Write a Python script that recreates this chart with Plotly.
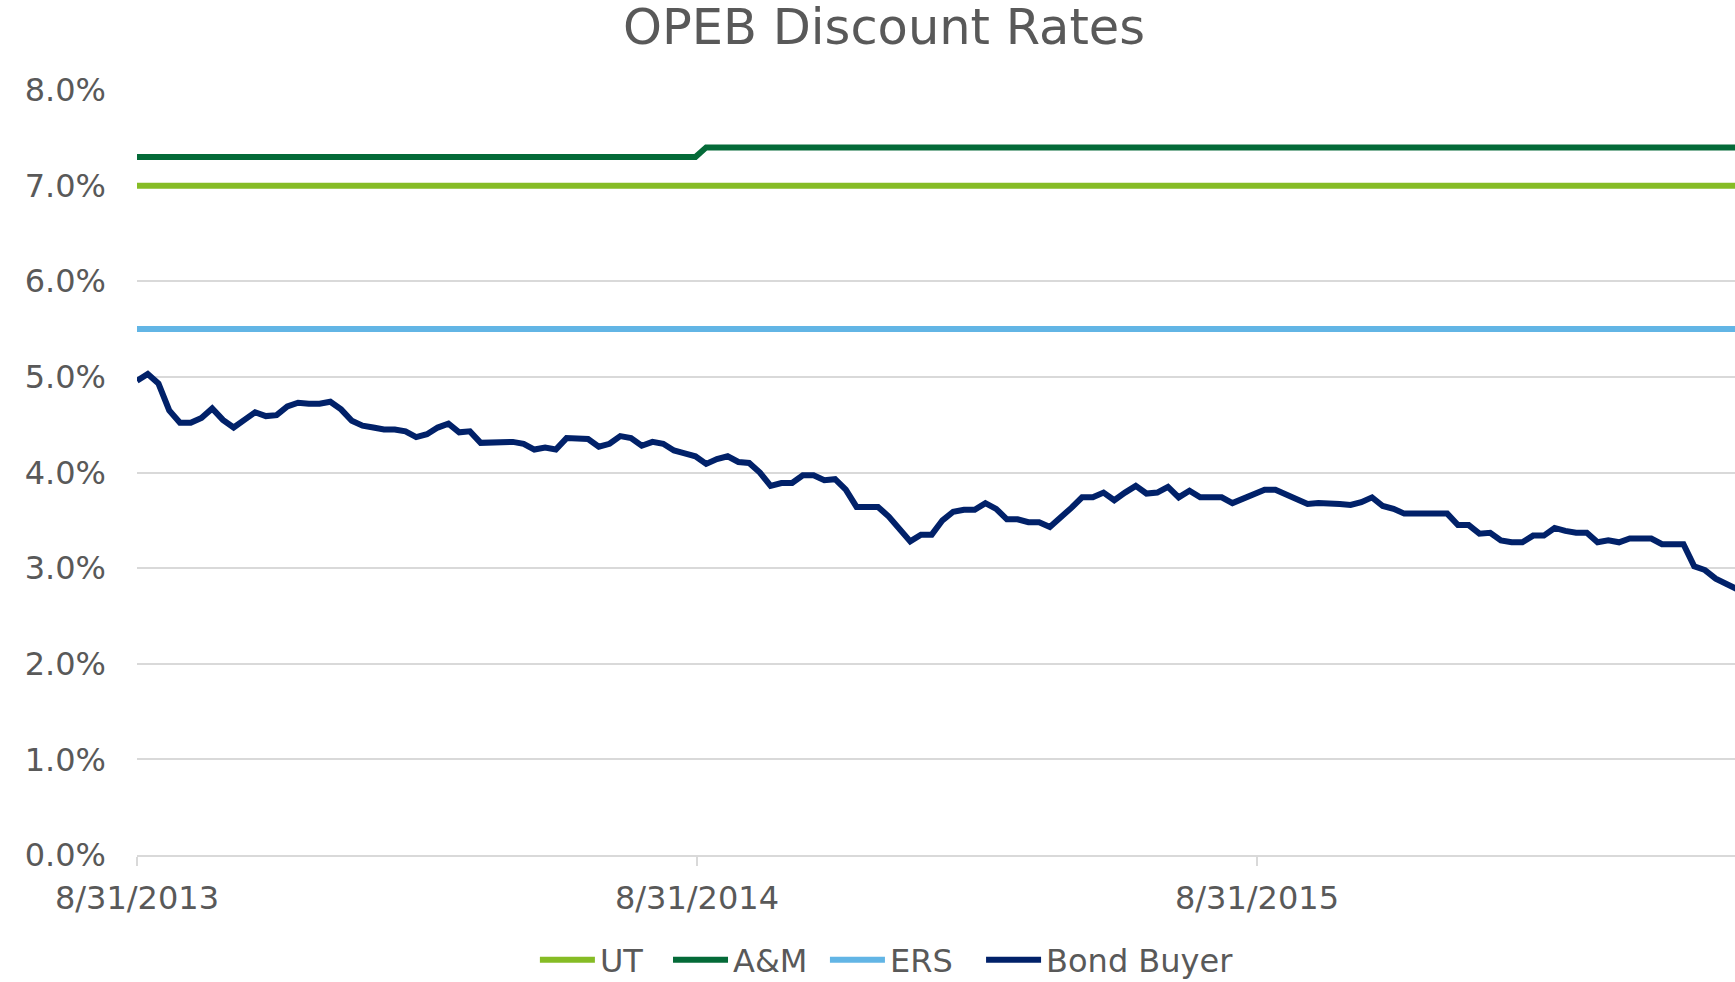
import pandas as pd
import plotly.graph_objects as go

# ---------------- data ----------------
start_date = "2013-08-31"
bond_buyer = [
    4.96, 5.03, 4.93, 4.65, 4.52, 4.52, 4.57, 4.67, 4.55, 4.47,
    4.55, 4.63, 4.59, 4.60, 4.69, 4.73, 4.72, 4.72, 4.74, 4.66,
    4.54, 4.49, 4.47, 4.45, 4.45, 4.43, 4.37, 4.40, 4.47, 4.51,
    4.42, 4.43, 4.31, 4.31, 4.32, 4.32, 4.30, 4.24, 4.26, 4.24,
    4.36, 4.36, 4.35, 4.27, 4.30, 4.38, 4.36, 4.28, 4.32, 4.30,
    4.23, 4.20, 4.17, 4.09, 4.14, 4.17, 4.11, 4.10, 4.00, 3.86,
    3.89, 3.89, 3.97, 3.97, 3.92, 3.93, 3.82, 3.64, 3.64, 3.64,
    3.54, 3.41, 3.28, 3.35, 3.35, 3.50, 3.59, 3.61, 3.61, 3.68,
    3.62, 3.51, 3.51, 3.48, 3.48, 3.43, 3.52, 3.63, 3.74, 3.74,
    3.79, 3.71, 3.79, 3.86, 3.78, 3.79, 3.85, 3.74, 3.81, 3.74,
    3.74, 3.74, 3.68, 3.73, 3.78, 3.82, 3.82, 3.77, 3.71, 3.67,
    3.68, 3.68, 3.67, 3.66, 3.69, 3.74, 3.65, 3.62, 3.57, 3.57,
    3.57, 3.57, 3.57, 3.45, 3.45, 3.36, 3.37, 3.29, 3.27, 3.27,
    3.34, 3.34, 3.42, 3.39, 3.37, 3.37, 3.27, 3.29, 3.27, 3.31,
    3.31, 3.31, 3.25, 3.25, 3.25, 3.02, 2.98, 2.89, 2.84, 2.78,
]
n_weeks = len(bond_buyer)
dates = pd.date_range(start_date, periods=n_weeks, freq="7D")

ut_rate = [7.0] * n_weeks
ers_rate = [5.5] * n_weeks
am_rate = [7.3] * 53 + [7.4] * (n_weeks - 53)

x_range = ["2013-08-31", "2016-07-07 14:00"]
tick_dates = ["2013-08-31", "2014-08-31", "2015-08-31"]
tick_labels = ["8/31/2013", "8/31/2014", "8/31/2015"]

series = [
    ("UT", ut_rate, "#86BC25"),
    ("A&M", am_rate, "#046A38"),
    ("ERS", ers_rate, "#62B5E5"),
    ("Bond Buyer", bond_buyer, "#012169"),
]

FONT = "DejaVu Sans, Verdana, sans-serif"
TEXT = "#595959"
GRID = "#D9D9D9"

# one single-entry legend per series, laid out in a row below the plot
legend_x = [0.249, 0.3323, 0.4305, 0.5282]
legend_ids = ["legend", "legend2", "legend3", "legend4"]

fig = go.Figure()
for (name, vals, color), lid in zip(series, legend_ids):
    fig.add_trace(go.Scatter(
        x=dates, y=vals, name=name, mode="lines",
        line=dict(color=color, width=6), legend=lid,
    ))

legend_style = dict(orientation="h", xanchor="left", y=22 / 982,
                    yref="container", yanchor="middle",
                    font=dict(size=32, color=TEXT),
                    itemwidth=55, bgcolor="rgba(0,0,0,0)")
legends = {lid: dict(x=lx, **legend_style) for lid, lx in zip(legend_ids, legend_x)}

fig.update_layout(
    width=1735, height=982,
    paper_bgcolor="white", plot_bgcolor="white",
    margin=dict(l=137, r=0, t=90, b=127),
    font=dict(family=FONT, color=TEXT, size=32),
    title=dict(text="OPEB Discount Rates", x=884 / 1735, xanchor="center",
               y=1 - 26.5 / 982, yanchor="middle", yref="container",
               font=dict(size=49.5, color=TEXT, family=FONT)),
    showlegend=True,
    xaxis=dict(type="date", range=x_range, tickvals=tick_dates,
               ticktext=tick_labels, showgrid=False, showline=True,
               linecolor=GRID, linewidth=2, ticks="outside", ticklen=9,
               tickwidth=1.5, tickcolor=GRID, zeroline=False,
               ticklabelstandoff=5, tickfont=dict(size=32, color=TEXT)),
    xaxis2=dict(type="date", matches="x", overlaying="x", anchor="y",
                side="bottom", tickvals=tick_dates, showticklabels=False,
                ticks="inside", ticklen=9, tickwidth=1.5, tickcolor=GRID,
                showgrid=False, showline=False, zeroline=False),
    yaxis=dict(range=[0, 8], dtick=1, tickformat=".1f", ticksuffix="%",
               showgrid=True, gridcolor=GRID, gridwidth=1.5, zeroline=False,
               showline=False, ticks="", ticklabelstandoff=30,
               tickfont=dict(size=32, color=TEXT)),
    **legends,
)

fig.write_html(
    "out.html",
    config={"displayModeBar": False},
    post_script="document.body.style.margin='0';document.body.style.overflow='hidden';",
)
